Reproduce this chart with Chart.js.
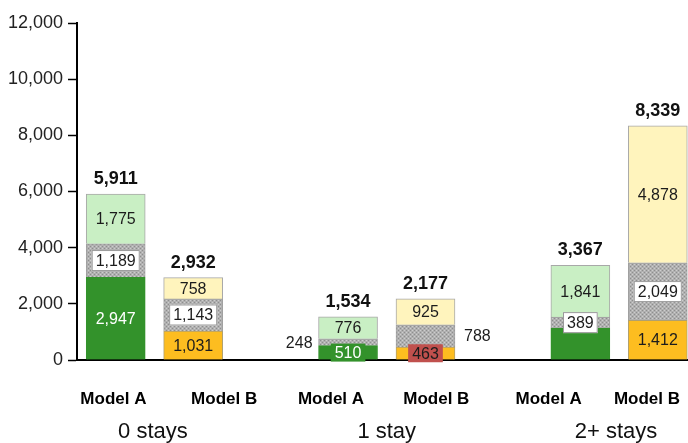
<!DOCTYPE html>
<html lang="en">

<head>
  <title></title>
  <meta charset="UTF-8">
  <meta name="viewport" content="width=device-width, initial-scale=1">
  <script src="https://cdn.jsdelivr.net/npm/chart.js@4.4.1/dist/chart.umd.min.js"></script>
  <style>
    body { margin: 0; background: #fff; }
  </style>
</head>

<body>
  <canvas id="myChart" width="688" height="443"></canvas>
  <script>
    const models = ["Model A", "Model B", "Model A", "Model B", "Model A", "Model B"];
    const groups = ["0 stays", "1 stay", "2+ stays"];
    const slots = [0, 1, 3, 4, 6, 7];          // slot index of each bar, empty slots split the groups
    const lower = [2947, 1031, 510, 463, 1137, 1412];
    const middle = [1189, 1143, 248, 788, 389, 2049];
    const upper = [1775, 758, 776, 925, 1841, 4878];
    const totals = [5911, 2932, 1534, 2177, 3367, 8339];
    const yTicks = [0, 2000, 4000, 6000, 8000, 10000, 12000];

    // where the axis texts sit, in slot units
    const modelTickAt = [-0.03, 1.40, 2.78, 4.14, 5.59, 6.86];
    const groupTickAt = [0.48, 3.50, 6.46];

    const GREEN = '#33922b', LIGHT_GREEN = '#c9efc4', ORANGE = '#fdbd20', YELLOW = '#fff4bd';
    const SANS = "'Liberation Sans', Arial, sans-serif";

    // label style of each segment
    const lowerStyle = ['white', 'plain', 'greenBox', 'redBox', 'none', 'plain'];
    const middleStyle = ['box', 'box', 'left', 'right', 'box', 'box'];
    const upperStyle = ['plain', 'plain', 'plain', 'plain', 'plain', 'plain'];

    const canvas = document.getElementById('myChart');

    function stipple() {
      const c = document.createElement('canvas');
      c.width = 4; c.height = 4;
      const g = c.getContext('2d');
      g.fillStyle = '#b0b0b0'; g.fillRect(0, 0, 4, 4);
      g.fillStyle = '#8e8e8e'; g.fillRect(0, 0, 1, 1); g.fillRect(2, 2, 1, 1);
      g.fillStyle = '#cdcdcd'; g.fillRect(2, 0, 1, 1); g.fillRect(0, 2, 1, 1);
      return canvas.getContext('2d').createPattern(c, 'repeat');
    }

    const pts = vals => vals.map((v, i) => ({ x: slots[i], y: v }));
    const fmt = v => v.toLocaleString('en-US');

    // x axes may run off the right edge; keep them from shrinking the plot
    const noSidePad = s => { s.paddingLeft = 0; s.paddingRight = 0; };

    const segLabels = {
      id: 'segLabels',
      afterDatasetsDraw(chart) {
        const ctx = chart.ctx;
        const styles = [lowerStyle, middleStyle, upperStyle];
        ctx.save();
        ctx.font = '16px ' + SANS;
        ctx.textBaseline = 'middle';
        chart.data.datasets.forEach((ds, d) => {
          chart.getDatasetMeta(d).data.forEach((bar, i) => {
            const st = styles[d][i];
            if (st === 'none') return;
            const text = fmt(ds.data[i].y);
            const cy = (bar.y + bar.base) / 2;
            const w = ctx.measureText(text).width;
            let cx = bar.x;
            ctx.textAlign = 'center';
            if (st === 'box' || st === 'greenBox' || st === 'redBox') {
              const bw = w + 8, bh = st === 'box' ? 21 : 18;
              ctx.fillStyle = st === 'box' ? '#fff' : (st === 'greenBox' ? GREEN : '#c0504d');
              ctx.fillRect(cx - bw / 2, cy - bh / 2, bw, bh);
              if (st === 'box') {
                ctx.strokeStyle = '#9a9a9a';
                ctx.lineWidth = 1;
                ctx.strokeRect(cx - bw / 2 + 0.5, cy - bh / 2 + 0.5, bw - 1, bh - 1);
              }
            }
            if (st === 'left') { ctx.textAlign = 'right'; cx = bar.x - bar.width / 2 - 6; }
            if (st === 'right') { ctx.textAlign = 'left'; cx = bar.x + bar.width / 2 + 9; }
            ctx.fillStyle = (st === 'white' || st === 'greenBox') ? '#fff' : '#1c1c1c';
            ctx.fillText(text, cx, cy + 1);
          });
        });
        // totals above each bar
        ctx.font = 'bold 18px ' + SANS;
        ctx.textAlign = 'center';
        ctx.fillStyle = '#111';
        const y = chart.scales.y;
        totals.forEach((t, i) => {
          ctx.fillText(fmt(t), chart.scales.x.getPixelForValue(slots[i]), y.getPixelForValue(t) - 15);
        });
        ctx.restore();
      }
    };

    new Chart(canvas, {
      type: 'bar',
      data: {
        datasets: [{
          data: pts(lower),
          backgroundColor: [GREEN, ORANGE, GREEN, ORANGE, GREEN, ORANGE],
          borderColor: [GREEN, '#b0a070', GREEN, '#b0a070', GREEN, '#b0a070'],
          borderWidth: 1
        }, {
          data: pts(middle),
          backgroundColor: stipple(),
          borderColor: '#a0a0a0',
          borderWidth: 1
        }, {
          data: pts(upper),
          backgroundColor: [LIGHT_GREEN, YELLOW, LIGHT_GREEN, YELLOW, LIGHT_GREEN, YELLOW],
          borderColor: '#a8a8a8',
          borderWidth: 1
        }]
      },
      options: {
        responsive: false,
        animation: false,
        barThickness: 59,
        layout: { padding: { top: 23, right: 0, left: 0, bottom: 0 } },
        plugins: { legend: { display: false }, tooltip: { enabled: false } },
        scales: {
          x: {
            type: 'linear',
            stacked: true,
            offset: false,
            min: -0.5,
            max: 7.39,
            grid: { display: false },
            border: { display: true, color: '#000', width: 2 },
            ticks: {
              autoSkip: false,
              maxRotation: 0,
              padding: 21,
              color: '#000',
              font: { family: SANS, size: 17, weight: 'bold' },
              callback: (v, i) => models[i]
            },
            afterBuildTicks: s => { s.ticks = modelTickAt.map(v => ({ value: v })); },
            afterFit: s => { s.height = 50; noSidePad(s); }
          },
          groups: {
            type: 'linear',
            position: 'bottom',
            offset: false,
            min: -0.5,
            max: 7.39,
            grid: { display: false },
            border: { display: false },
            ticks: {
              autoSkip: false,
              maxRotation: 0,
              padding: 1,
              color: '#111',
              font: { family: SANS, size: 22 },
              callback: (v, i) => groups[i]
            },
            afterBuildTicks: s => { s.ticks = groupTickAt.map(v => ({ value: v })); },
            afterFit: s => { s.height = 33; noSidePad(s); }
          },
          y: {
            stacked: true,
            min: 0,
            max: 12000,
            grid: { drawOnChartArea: false, drawTicks: true, tickLength: 9, color: '#000', tickWidth: 1.5 },
            border: { display: true, color: '#000', width: 2 },
            ticks: {
              padding: 5,
              color: '#222',
              font: { family: SANS, size: 18 },
              callback: v => fmt(v)
            },
            afterBuildTicks: s => { s.ticks = yTicks.map(v => ({ value: v })); },
            afterFit: s => { s.width = 77; }
          }
        }
      },
      plugins: [segLabels]
    });
  </script>
</body>

</html>
